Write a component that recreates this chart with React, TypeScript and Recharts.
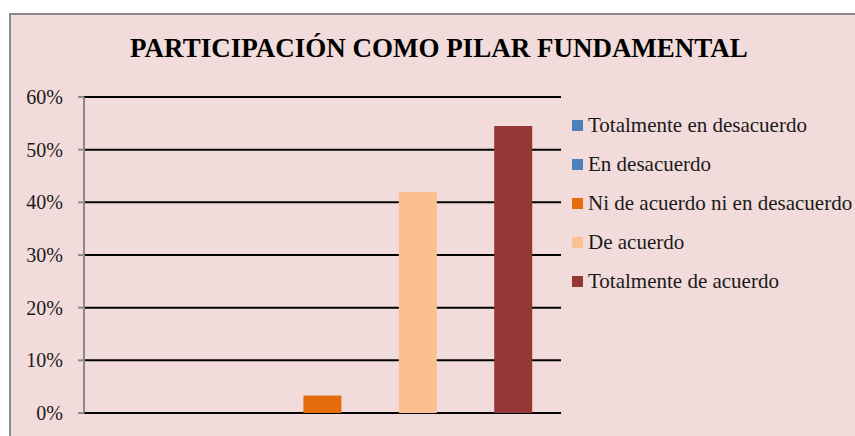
import React from 'react';
import { BarChart, Bar, XAxis, YAxis, CartesianGrid, Legend } from 'recharts';

const TITLE = 'PARTICIPACIÓN COMO PILAR FUNDAMENTAL';
const categories = [
  'Totalmente en desacuerdo',
  'En desacuerdo',
  'Ni de acuerdo ni en desacuerdo',
  'De acuerdo',
  'Totalmente de acuerdo',
];
const values = [0, 0, 0.033, 0.42, 0.545];
const yTicks = [0, 0.1, 0.2, 0.3, 0.4, 0.5, 0.6];
const colors = ['#4F81BD', '#4F81BD', '#E46C0A', '#FAC090', '#953735'];

const seriesKeys = categories.map((_, i) => `s${i}`);
const data = categories.map((c, i) => ({ name: c, [seriesKeys[i]]: values[i] }));

const FONT = '"Liberation Serif", "Times New Roman", serif';

const LegendContent = (props: any) => {
  const payload = [...(props.payload || [])].sort(
    (a: any, b: any) => categories.indexOf(a.value) - categories.indexOf(b.value)
  );
  return (
    <div style={{ width: 320, fontFamily: FONT, fontSize: 21, color: '#1a1a1a', whiteSpace: 'nowrap' }}>
      {payload.map((p: any) => {
        const idx = categories.indexOf(p.value);
        return (
          <div key={p.value} style={{ height: 39, display: 'flex', alignItems: 'center' }}>
            <span
              style={{
                display: 'inline-block',
                flexShrink: 0,
                width: 11,
                height: 11,
                marginLeft: 2,
                marginRight: 5,
                background: colors[idx] || p.color,
              }}
            />
            <span style={{ flexShrink: 0 }}>{p.value}</span>
          </div>
        );
      })}
    </div>
  );
};

export default function App() {
  return (
    <div style={{ position: 'absolute', left: 0, top: 0, width: 855, height: 436, overflow: 'hidden' }}>
      <div
        style={{
          position: 'absolute',
          left: 9,
          top: 13,
          width: 900,
          height: 500,
          border: '2px solid #8a8a8a',
          background: '#F2DCDB',
        }}
      />
      <div
        style={{
          position: 'absolute',
          left: 0,
          top: 30,
          width: 878,
          textAlign: 'center',
          fontFamily: FONT,
          fontWeight: 'bold',
          fontSize: 27,
          lineHeight: '36px',
          color: '#000',
          whiteSpace: 'nowrap',
        }}
      >
        {TITLE}
      </div>
      <div style={{ position: 'absolute', left: 0, top: 0 }}>
        <BarChart
          width={855}
          height={436}
          data={data}
          margin={{ top: 97, right: 294, bottom: 23, left: 0 }}
          barCategoryGap="30%"
        >
          <CartesianGrid vertical={false} stroke="#000" strokeWidth={2} />
          <XAxis dataKey="name" hide />
          <YAxis
            width={84}
            domain={[0, 0.6]}
            ticks={yTicks}
            tickFormatter={(v: number) => `${Math.round(v * 100)}%`}
            tickSize={6}
            tickMargin={15}
            axisLine={{ stroke: '#8a8a8a', strokeWidth: 2 }}
            tickLine={{ stroke: '#8a8a8a', strokeWidth: 2 }}
            tick={{ fontFamily: FONT, fontSize: 20, fill: '#1a1a1a' }}
          />
          <Legend
            layout="vertical"
            align="right"
            verticalAlign="top"
            content={<LegendContent />}
            wrapperStyle={{ position: 'absolute', left: 570, top: 106, width: 0, height: 0, overflow: 'visible' }}
          />
          {seriesKeys.map((k, i) => (
            <Bar
              key={k}
              dataKey={k}
              name={categories[i]}
              stackId="a"
              fill={colors[i]}
              isAnimationActive={false}
            />
          ))}
        </BarChart>
      </div>
    </div>
  );
}
